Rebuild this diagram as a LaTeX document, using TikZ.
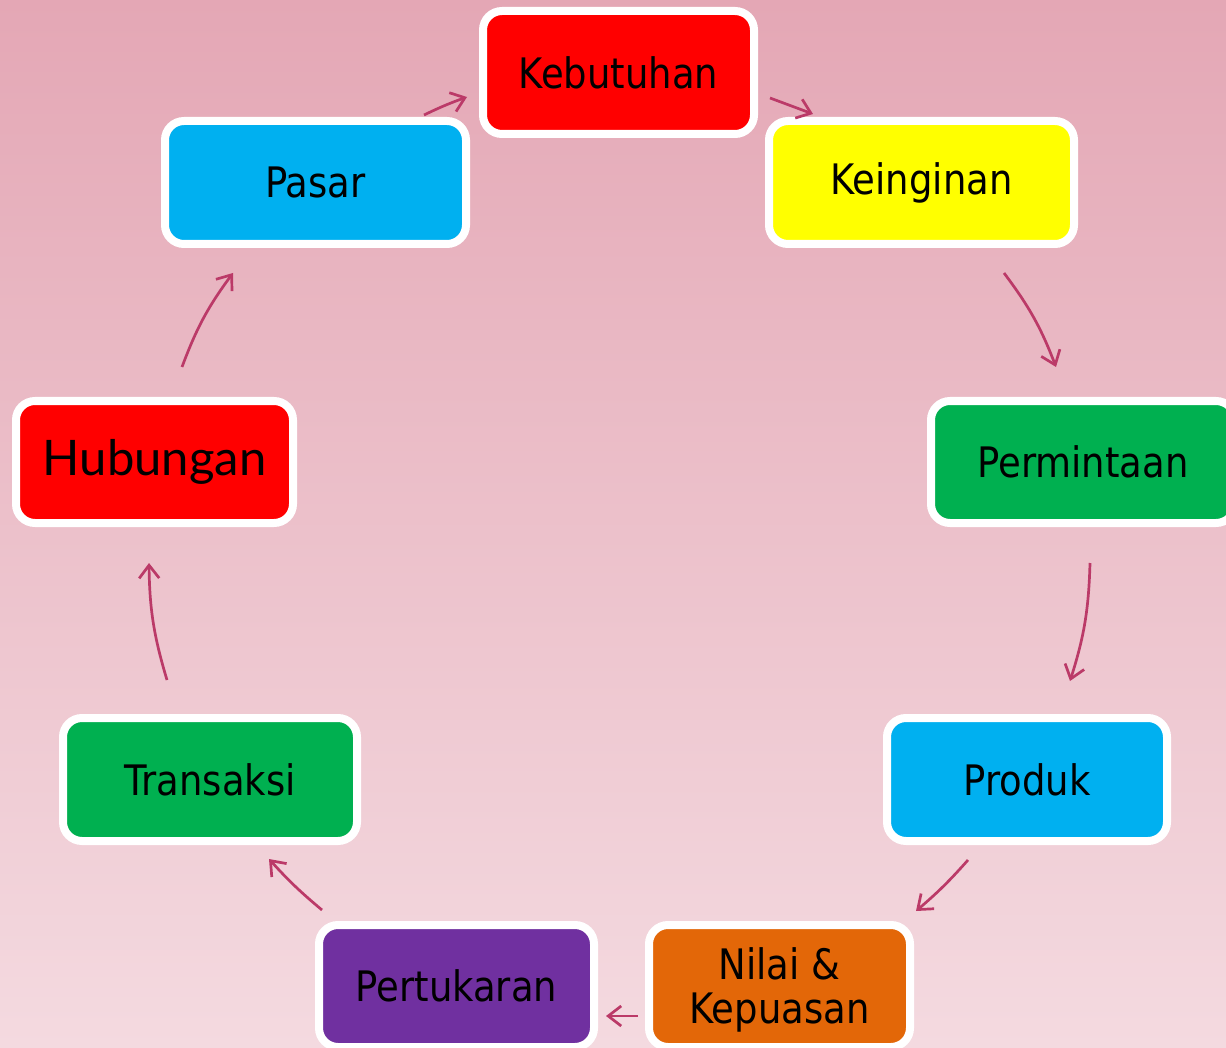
\documentclass[tikz,border=0pt]{standalone}
\usepackage{fontspec}
\setmainfont[FakeStretch=0.88]{DejaVu Sans}
\newfontfamily\hubfont{Lato}
\usetikzlibrary{arrows.meta}
\definecolor{bgtop}{RGB}{228,167,181}
\definecolor{bgbot}{RGB}{244,218,224}
\definecolor{arr}{RGB}{187,58,104}
\definecolor{cred}{RGB}{255,0,0}
\definecolor{cyel}{RGB}{255,255,0}
\definecolor{cblue}{RGB}{0,176,240}
\definecolor{cgreen}{RGB}{0,176,80}
\definecolor{corange}{RGB}{227,103,8}
\definecolor{cpurple}{RGB}{112,48,160}
\tikzset{
  box/.style={draw=white, line width=8pt, rounded corners=19pt, inner sep=0pt,
    align=center, text=black, font=\fontsize{42}{44}\selectfont},
  conn/.style={draw=arr, line width=2.7pt,
    -{Straight Barb[length=13pt,width=20pt,line width=2.7pt]}},
}
\begin{document}
\begin{tikzpicture}[x=1pt,y=1pt]
\useasboundingbox (0,0) rectangle (1226,-1048);
\shade[top color=bgtop, bottom color=bgbot] (0,0) rectangle (1226,-1048);
\begin{scope}
\clip (0,0) rectangle (1226,-1048);
\node[box, fill=cred, minimum width=271pt, minimum height=123pt] (keb) at (618.5,-72.5) {Kebutuhan};
\node[box, fill=cyel, minimum width=305pt, minimum height=123pt] (kei) at (921.5,-182.5) {Keinginan};
\node[box, fill=cblue, minimum width=301pt, minimum height=123pt] (pas) at (315.5,-182.5) {Pasar};
\node[box, fill=cred, minimum width=277pt, minimum height=122pt, font=\hubfont\fontsize{49}{52}\selectfont] (hub) at (154.5,-462) {Hubungan};
\node[box, fill=cgreen, minimum width=304pt, minimum height=122pt] (per) at (1083,-462) {Permintaan};
\node[box, fill=cblue, minimum width=280pt, minimum height=123pt] (pro) at (1027,-779.5) {Produk};
\node[box, fill=cgreen, minimum width=294pt, minimum height=123pt] (tra) at (210,-779.5) {Transaksi};
\node[box, fill=cpurple, minimum width=275pt, minimum height=122pt] (pert) at (456.5,-986) {Pertukaran};
\node[box, fill=corange, minimum width=261pt, minimum height=122pt] (nil) at (779.5,-986) {};
\node[align=center, inner sep=0pt, font=\fontsize{42}{44}\selectfont] (niltext) at (779.5,-990) {Nilai \&\\Kepuasan};
\end{scope}
\coordinate (a1s) at (424,-115); \coordinate (a1e) at (467,-97);
\coordinate (a2s) at (770,-98);  \coordinate (a2e) at (813,-114);
\coordinate (a3s) at (1004,-273); \coordinate (a3e) at (1056,-367);
\coordinate (a4s) at (1090,-563); \coordinate (a4e) at (1070,-681);
\coordinate (a5s) at (968,-860); \coordinate (a5e) at (916,-911);
\coordinate (a6s) at (638,-1016); \coordinate (a6e) at (606,-1016);
\coordinate (a7s) at (322,-910); \coordinate (a7e) at (269,-859);
\coordinate (a8s) at (167,-680); \coordinate (a8e) at (149,-563);
\coordinate (a9s) at (182,-367); \coordinate (a9e) at (233,-273);
\draw[conn] (a1s) to[bend left=3] (a1e);
\draw[conn] (a2s) -- (a2e);
\draw[conn] (a3s) to[bend left=8] (a3e);
\draw[conn] (a4s) to[bend left=8] (a4e);
\draw[conn] (a5s) to[bend left=4] (a5e);
\draw[conn] (a6s) -- (a6e);
\draw[conn] (a7s) to[bend left=4] (a7e);
\draw[conn] (a8s) to[bend left=8] (a8e);
\draw[conn] (a9s) to[bend left=8] (a9e);
\end{tikzpicture}
\end{document}
